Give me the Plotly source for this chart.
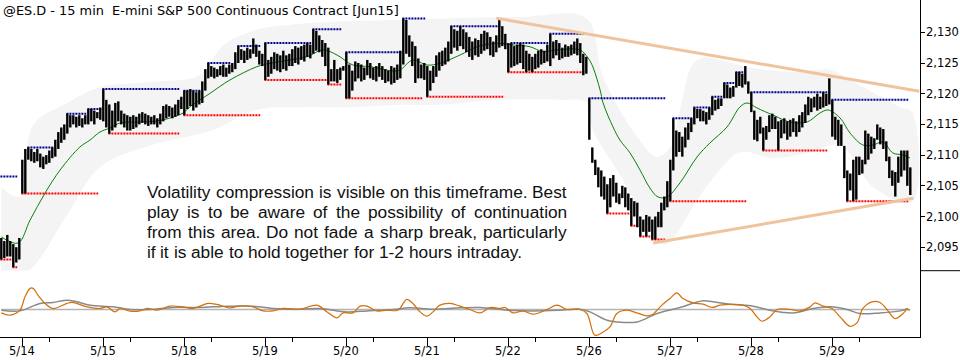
import plotly.graph_objects as go

# ---------------- data ----------------
title_text = "@ES.D - 15 min  E-mini S&P 500 Continuous Contract [Jun15]"
day_labels = ["5/14", "5/15", "5/18", "5/19", "5/20", "5/21", "5/22", "5/26", "5/27", "5/28", "5/29"]
day_start = [7, 34, 61, 88, 115, 142, 169, 196, 223, 250, 277]
minor_tick = [16, 43, 70, 97, 124, 151, 178, 205, 232, 259, 286]
price_ticks = [2095, 2100, 2105, 2110, 2115, 2120, 2125, 2130]

highs = [
    # 5/13 (tail)
    2096.5, 2096.0, 2097.0, 2096.0, 2095.5, 2095.0, 2096.5,
    # 5/14
    2109.25, 2111.0, 2111.25, 2111.0, 2110.5, 2111.0, 2110.25, 2109.75, 2110.0, 2110.75,
    2111.25, 2112.5, 2113.75, 2114.5, 2115.0, 2116.75, 2116.5, 2116.5, 2116.25, 2116.5,
    2116.0, 2116.5, 2117.5, 2117.5, 2117.25, 2117.0, 2117.75,
    # 5/15
    2120.75, 2119.0, 2118.25, 2117.25, 2118.5, 2118.75, 2117.25, 2116.75, 2116.5, 2116.25,
    2116.5, 2116.25, 2116.75, 2117.0, 2116.75, 2116.5, 2116.25, 2116.5, 2116.0, 2116.75,
    2118.0, 2118.25, 2118.0, 2117.75, 2118.25, 2119.0, 2119.5,
    # 5/18
    2120.5, 2120.5, 2120.75, 2120.5, 2120.25, 2120.5, 2122.0, 2124.0, 2125.0, 2124.5,
    2124.25, 2124.0, 2124.5, 2124.75, 2124.25, 2124.75, 2125.0, 2126.75, 2127.75, 2127.25,
    2127.0, 2127.5, 2127.25, 2129.0, 2128.0, 2127.0, 2126.5,
    # 5/19
    2128.25, 2125.5, 2126.0, 2126.75, 2126.5, 2126.25, 2127.0, 2126.25, 2126.5, 2127.25,
    2127.75, 2127.5, 2127.75, 2128.0, 2128.25, 2128.0, 2130.5, 2130.25, 2129.5, 2128.75,
    2128.25, 2127.5, 2124.0, 2125.5, 2124.0, 2124.25, 2124.5,
    # 5/20
    2126.75, 2124.75, 2123.75, 2125.25, 2125.0, 2124.75, 2124.25, 2125.5, 2125.0, 2124.25,
    2124.5, 2125.0, 2124.5, 2124.0, 2123.75, 2124.5, 2124.25, 2124.75, 2127.0, 2132.25,
    2132.0, 2129.5, 2128.5, 2127.75, 2125.75, 2124.75, 2125.0,
    # 5/21
    2124.5, 2123.75, 2124.5, 2126.25, 2126.75, 2127.0, 2127.5, 2128.5, 2131.0, 2130.5,
    2130.25, 2131.0, 2130.5, 2130.0, 2129.25, 2128.5, 2129.0, 2128.75, 2129.75, 2130.25,
    2130.0, 2129.25, 2128.5, 2129.5, 2132.25, 2131.0, 2129.75,
    # 5/22
    2128.25, 2128.25, 2127.75, 2128.0, 2128.25, 2128.0, 2127.0, 2126.5, 2126.0, 2126.5,
    2127.0, 2127.25, 2127.0, 2128.0, 2129.75, 2128.5, 2128.75, 2128.25, 2127.5, 2128.0,
    2127.75, 2128.0, 2128.5, 2129.0, 2128.25, 2126.5, 2126.0,
    # 5/26
    2119.25, 2111.25, 2109.25, 2108.0, 2107.5, 2106.5, 2105.25, 2106.25, 2106.75, 2105.5,
    2103.75, 2105.0, 2104.75, 2103.75, 2103.0, 2102.5, 2102.25, 2100.0, 2099.5, 2100.25,
    2100.0, 2099.5, 2100.0, 2100.75, 2102.25, 2103.25, 2105.75,
    # 5/27
    2109.25, 2116.0, 2114.0, 2113.75, 2113.0, 2114.5, 2115.25, 2116.0, 2117.75, 2117.5,
    2117.5, 2117.25, 2117.0, 2117.75, 2119.5, 2119.0, 2119.25, 2119.25, 2121.75, 2121.5,
    2121.0, 2121.25, 2123.5, 2123.5, 2123.25, 2124.5, 2122.0,
    # 5/28
    2120.25, 2117.25, 2115.75, 2116.25, 2114.5, 2114.75, 2116.5, 2116.75, 2116.25, 2115.5,
    2115.75, 2116.0, 2115.5, 2115.75, 2116.0, 2115.5, 2116.5, 2117.0, 2118.25, 2119.5,
    2119.25, 2119.5, 2120.0, 2119.5, 2120.25, 2120.0, 2122.5,
    # 5/29
    2119.0, 2116.25, 2115.75, 2115.0, 2111.5, 2107.5, 2107.0, 2109.25, 2109.75, 2109.75,
    2109.25, 2114.0, 2113.5, 2113.0, 2112.75, 2115.0, 2114.5, 2114.25, 2112.25, 2109.75,
    2107.5, 2107.25, 2109.75, 2110.75, 2110.75, 2110.75, 2108.0,
]

lows = [
    # 5/13 (tail)
    2093.0, 2093.25, 2093.5, 2093.5, 2091.75, 2092.5, 2093.0,
    # 5/14
    2103.75, 2103.75, 2109.25, 2109.0, 2108.75, 2109.0, 2108.0, 2107.75, 2108.5, 2108.75,
    2109.5, 2109.75, 2111.0, 2112.0, 2112.5, 2113.5, 2114.5, 2115.0, 2114.5, 2114.75,
    2114.5, 2115.0, 2115.0, 2115.5, 2115.0, 2116.0, 2115.75,
    # 5/15
    2115.5, 2114.5, 2113.5, 2114.0, 2114.5, 2115.5, 2115.0, 2114.5, 2114.0, 2114.0,
    2114.25, 2114.5, 2115.0, 2115.25, 2115.0, 2114.75, 2115.0, 2115.0, 2114.5, 2115.0,
    2115.5, 2116.0, 2116.25, 2116.0, 2116.25, 2116.5, 2117.5,
    # 5/18
    2116.5, 2117.5, 2118.0, 2117.25, 2117.75, 2118.25, 2118.5, 2120.5, 2122.5, 2122.75,
    2122.5, 2122.75, 2123.0, 2122.75, 2122.75, 2123.25, 2123.5, 2124.0, 2125.0, 2125.5,
    2125.0, 2125.5, 2125.75, 2126.5, 2126.0, 2124.75, 2124.5,
    # 5/19
    2122.25, 2122.75, 2123.25, 2124.0, 2123.75, 2123.5, 2124.0, 2123.75, 2124.5, 2124.5,
    2125.0, 2124.75, 2125.5, 2125.25, 2126.0, 2125.75, 2126.5, 2127.0, 2126.75, 2126.0,
    2124.5, 2121.5, 2122.0, 2122.0, 2121.75, 2122.25, 2123.75,
    # 5/20
    2119.25, 2119.25, 2120.5, 2122.0, 2122.5, 2122.0, 2122.25, 2123.0, 2122.5, 2122.25,
    2122.0, 2122.75, 2122.25, 2121.75, 2122.0, 2121.5, 2121.75, 2122.25, 2122.5, 2124.75,
    2126.5, 2126.0, 2124.5, 2121.75, 2122.5, 2122.5, 2122.25,
    # 5/21
    2119.5, 2120.5, 2121.75, 2122.75, 2123.75, 2124.5, 2124.75, 2125.25, 2126.5, 2127.5,
    2127.0, 2127.75, 2127.25, 2126.75, 2126.0, 2125.5, 2126.25, 2126.0, 2126.5, 2127.0,
    2127.25, 2126.25, 2126.0, 2126.75, 2127.5, 2127.75, 2127.25,
    # 5/22
    2123.5, 2124.25, 2124.5, 2124.75, 2125.0, 2124.0, 2123.5, 2123.75, 2123.5, 2124.0,
    2124.25, 2124.75, 2125.0, 2125.25, 2124.5, 2125.75, 2126.25, 2125.5, 2125.75, 2126.0,
    2126.0, 2126.25, 2126.5, 2126.25, 2125.0, 2123.0, 2123.25,
    # 5/26
    2112.5, 2108.75, 2106.75, 2104.75, 2103.25, 2102.75, 2100.5, 2101.5, 2103.25, 2102.25,
    2102.0, 2103.0, 2101.5, 2101.0, 2098.5, 2100.0, 2098.25, 2096.75, 2097.5, 2096.75,
    2097.5, 2096.25, 2096.25, 2098.25, 2098.25, 2101.0, 2101.5,
    # 5/27
    2102.5, 2107.5, 2109.75, 2110.5, 2109.75, 2111.25, 2112.5, 2113.75, 2115.0, 2116.0,
    2115.5, 2115.5, 2115.0, 2115.75, 2116.5, 2117.25, 2117.5, 2118.0, 2119.25, 2119.25,
    2119.25, 2119.5, 2121.0, 2121.25, 2121.0, 2121.5, 2120.0,
    # 5/28
    2117.0, 2112.5, 2112.25, 2113.5, 2110.75, 2112.5, 2113.75, 2114.25, 2114.25, 2110.75,
    2112.75, 2113.5, 2112.5, 2113.0, 2113.75, 2113.0, 2113.75, 2114.5, 2115.25, 2116.5,
    2117.0, 2117.75, 2117.25, 2117.5, 2117.75, 2118.0, 2118.25,
    # 5/29
    2113.0, 2112.5, 2111.5, 2111.5, 2106.25, 2102.5, 2104.25, 2102.5, 2102.75, 2106.75,
    2107.0, 2108.5, 2109.25, 2110.25, 2111.0, 2112.5, 2111.75, 2111.0, 2109.0, 2106.25,
    2105.0, 2103.25, 2105.5, 2106.5, 2107.5, 2105.0, 2103.5,
]

# moving average (read at sample bars)
ma_x = [0, 5.6, 9.6, 14.6, 19.6, 26.2, 29.6, 32.9, 36.2, 39.6, 46.2, 52.9, 60.6, 62.9, 69.6,
        76.2, 85.2, 89.6, 96.2, 101.9, 107.2, 111.9, 117.2, 122.9, 130.6, 132.9, 137.2, 141.9,
        146.2, 152.9, 158.6, 165.2, 170.6, 176.2, 180.6, 185.2, 192.9, 195.6, 197.2, 199.6,
        200.6, 203.9, 206.2, 209.6, 212.9, 216.2, 218.9, 221.9, 226.2, 231.9, 236.2, 241.9,
        246.2, 248.6, 251.9, 257.2, 262.9, 268.6, 272.9, 275.6, 279.6, 282.9, 287.2, 290.6,
        293.9, 297.2, 300.6, 302.9]
ma_y = [2096.66, 2095.68, 2099.43, 2103.83, 2107.57, 2111.32, 2112.46, 2113.76, 2114.41,
        2115.23, 2115.4, 2115.64, 2116.86, 2117.88, 2120.07, 2122.23, 2124.4, 2124.95, 2125.49,
        2126.03, 2127.12, 2126.3, 2124.67, 2124.4, 2123.7, 2123.86, 2125.49, 2124.67, 2124.95,
        2126.3, 2127.65, 2128.21, 2127.93, 2127.65, 2126.84, 2127.12, 2127.12, 2125.81, 2124.35,
        2120.6, 2118.49, 2114.58, 2112.46, 2110.34, 2107.57, 2104.64, 2103.18, 2103.18, 2105.46,
        2109.69, 2111.97, 2114.58, 2117.83, 2118.49, 2117.67, 2116.53, 2115.39, 2115.39, 2116.86,
        2117.35, 2116.04, 2113.6, 2111.65, 2111.65, 2112.13, 2110.34, 2110.02, 2109.53]

# volatility band edges (read at sample bars)
band_up_x = [0, 6, 10.6, 22, 33, 50, 66, 74, 85, 96, 110, 130, 150, 173, 195, 200.6, 212, 218.6,
             223, 226.2, 232, 248.6, 255, 266, 276, 286, 299.6, 303.6]
band_up = [2104.8, 2103.2, 2114.9, 2118.5, 2121.1, 2121.9, 2123.0, 2127.9, 2130.4, 2131.2,
           2131.7, 2132.0, 2132.3, 2132.5, 2132.3, 2122.7, 2112.95, 2109.7, 2111.3, 2117.35,
           2125.5, 2124.35, 2123.9, 2123.5, 2123.9, 2121.4, 2117.8, 2117.0]
band_lo_x = [0, 6, 10.6, 22, 33, 50, 70.6, 85, 99.6, 116, 133, 146, 166, 186, 195, 197.2, 206.2,
             218.6, 221.2, 223.6, 233, 239.6, 246.2, 257.2, 268.6, 279.6, 290.6, 303.6]
band_lo = [2090.5, 2090.5, 2091.8, 2100.3, 2108.1, 2111.6, 2114.1, 2117.35, 2117.8, 2117.8,
           2118.2, 2118.2, 2119.0, 2119.0, 2118.6, 2114.1, 2106.8, 2096.2, 2095.35, 2096.2,
           2103.5, 2107.6, 2110.5, 2109.5, 2110.3, 2111.6, 2104.8, 2102.4]

# resistance (blue) and support (red) levels: level, first bar, last bar
res_level = [2106.5, 2111.25, 2116.75, 2117.5, 2120.75, 2120.5, 2125.0, 2127.75, 2128.25, 2130.5,
             2126.75, 2132.25, 2131.0, 2128.25, 2129.75, 2119.25, 2116.0, 2117.75, 2119.5,
             2121.75, 2123.5, 2120.25, 2119.0]
res_start = [0, 9, 22, 29, 34, 61, 69, 79, 88, 104, 115, 134, 150, 170, 183, 196, 224, 231, 237,
             241, 245, 250, 277]
res_end = [5, 17, 28, 33, 59, 66, 76, 86, 103, 113, 133, 141, 166, 182, 194, 221, 230, 236, 240,
           244, 247, 275, 302]

sup_level = [2093.0, 2091.75, 2103.75, 2113.5, 2116.5, 2122.25, 2121.5, 2119.25, 2119.5, 2123.5,
             2100.5, 2098.5, 2096.75, 2096.25, 2102.5, 2110.75, 2102.5]
sup_start = [0, 4, 7, 36, 61, 88, 109, 115, 142, 169, 202, 210, 213, 217, 223, 254, 282]
sup_end = [3, 5, 32, 59, 86, 109, 113, 140, 167, 194, 209, 212, 216, 221, 248, 275, 302]

# trend lines
trend_up_x = [165, 306]
trend_up_y = [2132.3, 2120.4]
trend_lo_x = [217.3, 304]
trend_lo_y = [2095.7, 2102.96]

# oscillator panel
osc_x = [0, 2.9, 6.2, 7.9, 9.6, 10.6, 12.2, 14.6, 17.2, 21.9, 23.6, 28.6, 32.9, 35.2, 37.9, 39.6,
         42.9, 46.2, 48.6, 51.9, 56.2, 60.6, 63.9, 68.9, 71.9, 76.2, 79.6, 83.9, 87.2, 90.6, 93.9,
         99.6, 105.2, 108.6, 111.9, 113.9, 117.2, 119.6, 121.9, 125.2, 128.6, 132.2, 135.2, 137.2,
         139.6, 141.9, 143.9, 146.2, 149.6, 152.9, 156.2, 159.6, 162.9, 166.2, 167.9, 170.6, 173.9,
         177.2, 181.9, 185.2, 188.6, 192.9, 195.2, 197.9, 200.6, 202.9, 205.2, 208.6, 211.9, 215.2,
         217.2, 220.2, 222.9, 225.2, 227.2, 230.6, 233.9, 236.9, 239.6, 243.9, 247.2, 249.6, 251.9,
         253.6, 256.2, 258.6, 262.9, 266.2, 269.6, 271.2, 273.9, 276.9, 279.6, 282.9, 285.2, 287.2,
         290.2, 292.9, 295.2, 297.9, 300.6, 301.9, 302.9]
osc_v = [-3.4, -5.7, -0.7, 12.6, 21.0, 21.0, 14.3, 6.0, 1.0, 6.0, 7.0, 2.6, 1.0, 2.6, -2.4, 1.0,
         -1.7, -1.4, 1.0, -0.7, 3.3, 2.6, 1.0, 6.0, 5.0, 1.6, 3.6, 2.6, -1.4, -1.4, 1.0,
         0.3, 4.3, -2.4, -8.4, -3.4, -3.4, 3.3, 3.3, -1.4, -0.7, -0.7, 10.0, 6.0,
         -2.4, -6.7, -2.4, 4.3, 6.0, 3.3, 0.0, -3.4, 2.0, 1.0, 2.0, -3.4, -1.4,
         -4.7, 0.0, 4.3, 0.0, 0.0, -4.0, -25.7, -22.4, -17.4, -4.0, -0.7, -3.4, -6.4,
         -4.7, 4.3, 11.0, 16.6, 11.0, 6.6, 5.3, 2.0, 4.3, 5.0, 4.3, 1.0, -7.4,
         -11.7, -7.4, 0.0, 0.0, -1.4, 2.6, 6.6, 3.3, 1.0, -7.4, -16.7, -13.4, 1.0,
         7.6, 7.0, 0.0, -9.0, -4.0, 0.0, -0.7]
sig_x = [0, 6.2, 12.9, 17.2, 21.9, 25.2, 29.6, 37.2, 42.9, 49.6, 57.2, 66.2, 75.2, 83.9, 90.6,
         99.6, 106.2, 115.2, 121.9, 130.6, 136.2, 143.9, 152.9, 159.6, 168.6, 177.2, 186.2, 192.9,
         196.2, 201.9, 205.2, 211.9, 218.6, 226.2, 233.9, 237.2, 243.9, 250.6, 256.2, 263.9, 270.6,
         276.2, 281.9, 286.2, 292.9, 299.6, 302.2]
sig_v = [-0.7, -1.4, 6.0, 7.0, 9.3, 7.6, 4.3, 2.6, 0.0, 0.0, 2.0, 2.0, 3.3, 3.3, 1.0,
         0.3, 1.0, -2.4, -1.4, 0.0, 1.6, 0.3, 1.6, 2.0, -0.7, -1.4, -0.7, 0.3,
         -2.4, -10.7, -12.4, -12.4, -4.0, 2.0, 8.6, 7.6, 5.0, 3.3, -0.7, -3.4, 1.0,
         2.6, 0.0, -4.0, -3.4, -1.4, 1.0]
zero_x = [0, 303]
zero_v = [0, 0]

note_lines = [
    "Volatility compression is visible on this timeframe. Best",
    "play is to be aware of the possibility of continuation",
    "from this area. Do not fade a sharp break, particularly",
    "if it is able to hold together for 1-2 hours intraday.",
]

# ---------------- layout constants ----------------
W, H = 960, 360
ML, MR, MT, MB = 0, 40, 0, 23
PW, PH = W - ML - MR, H - MT - MB
MAIN_BOTTOM_PX = 270.7
LOW_TOP_PX = 271.0
BAND_COLOR = "#f4f4f4"

fig = go.Figure()

# band: lower edge then upper edge (reversed) as one closed polygon
poly_x = list(band_lo_x) + list(reversed(band_up_x))
poly_y = list(band_lo) + list(reversed(band_up))
fig.add_trace(go.Scatter(x=poly_x, y=poly_y, mode="lines", line=dict(width=0, color=BAND_COLOR),
                         line_shape="spline", fill="toself", fillcolor=BAND_COLOR,
                         hoverinfo="skip", showlegend=False))

# moving average
fig.add_trace(go.Scatter(x=ma_x, y=ma_y, mode="lines", line=dict(color="#0b800b", width=1),
                         line_shape="spline", hoverinfo="skip", showlegend=False))

# support / resistance dotted levels
def seg_xy(levels, starts, ends):
    xs, ys = [], []
    for lv, s, e in zip(levels, starts, ends):
        xs += [s - 0.3, e + 0.3, None]
        ys += [lv, lv, None]
    return xs, ys

rx, ry = seg_xy(res_level, res_start, res_end)
sx, sy = seg_xy(sup_level, sup_start, sup_end)
fig.add_trace(go.Scatter(x=rx, y=ry, mode="lines", line=dict(color="#00008e", width=2, dash="2px,1px"),
                         hoverinfo="skip", showlegend=False))
fig.add_trace(go.Scatter(x=sx, y=sy, mode="lines", line=dict(color="#ff0000", width=2, dash="2px,1px"),
                         hoverinfo="skip", showlegend=False))

# price bars (high-low)
bx, by = [], []
for i, (h, l) in enumerate(zip(highs, lows)):
    bx += [i, i, None]
    by += [l, h, None]
fig.add_trace(go.Scatter(x=bx, y=by, mode="lines", line=dict(color="#000000", width=2.4),
                         hoverinfo="skip", showlegend=False))

# trend lines
fig.add_trace(go.Scatter(x=trend_up_x, y=trend_up_y, mode="lines",
                         line=dict(color="#efc39e", width=3), hoverinfo="skip", showlegend=False))
fig.add_trace(go.Scatter(x=trend_lo_x, y=trend_lo_y, mode="lines",
                         line=dict(color="#efc39e", width=3), hoverinfo="skip", showlegend=False))

# oscillator panel
fig.add_trace(go.Scatter(x=zero_x, y=zero_v, yaxis="y2", mode="lines",
                         line=dict(color="#b4b4b4", width=1.5), hoverinfo="skip", showlegend=False))
fig.add_trace(go.Scatter(x=sig_x, y=sig_v, yaxis="y2", mode="lines", line_shape="spline",
                         line=dict(color="#8a8a8a", width=1.5), hoverinfo="skip", showlegend=False))
fig.add_trace(go.Scatter(x=osc_x, y=osc_v, yaxis="y2", mode="lines", line_shape="spline",
                         line=dict(color="#d2700a", width=1.2), hoverinfo="skip", showlegend=False))

# ---------------- text ----------------
AXIS_FONT = dict(family="DejaVu Sans", size=11.5, color="#000000")
annotations = []
annotations.append(dict(text=title_text, x=1 / PW, y=1 - 10 / PH, xref="paper", yref="paper",
                        xanchor="left", yanchor="middle", showarrow=False,
                        font=dict(family="DejaVu Sans", size=12.9, color="#000000")))

# price labels on the right
for p in price_ticks:
    annotations.append(dict(text=f"{p:,}", x=(924 - ML) / PW, y=p, xref="paper", yref="y",
                            xanchor="left", yanchor="middle", showarrow=False, font=AXIS_FONT))
# date labels
for d, lab in zip(day_start, day_labels):
    annotations.append(dict(text=lab, x=d, y=1 - 351 / PH, xref="x", yref="paper",
                            xanchor="center", yanchor="middle", showarrow=False, font=AXIS_FONT))

ARIAL = {" ": 278, "a": 556, "b": 556, "c": 500, "d": 556, "e": 556, "f": 278, "g": 556, "h": 556,
         "i": 222, "j": 222, "k": 500, "l": 222, "m": 833, "n": 556, "o": 556, "p": 556, "q": 556,
         "r": 333, "s": 500, "t": 278, "u": 556, "v": 500, "w": 722, "x": 500, "y": 500, "z": 500,
         "V": 667, "B": 667, "D": 722, ".": 278, ",": 278, "-": 333, "1": 556, "2": 556}
FS = 17.3
TX0, TX1 = 146, 566
line_y = [191.7, 211.7, 231.7, 251.7]

def tw(s):
    return sum(ARIAL.get(c, 556) for c in s) * FS / 1000.0

for k, line in enumerate(note_lines):
    words = line.split(" ")
    if k < len(note_lines) - 1:
        gap = (TX1 - TX0 - sum(tw(w) for w in words)) / (len(words) - 1)
    else:
        gap = tw(" ")
    xpos = TX0
    for w in words:
        annotations.append(dict(text=w, x=(xpos - 1) / PW, y=1 - line_y[k] / PH, xref="paper",
                                yref="paper", xanchor="left", yanchor="middle", showarrow=False,
                                font=dict(family="Liberation Sans", size=FS, color="#111111")))
        xpos += tw(w) + gap

shapes = [
    dict(type="line", xref="paper", yref="paper", x0=1, x1=1 + MR / PW,
         y0=1 - MAIN_BOTTOM_PX / PH, y1=1 - MAIN_BOTTOM_PX / PH, line=dict(color="black", width=1)),
]

x_lo = -1.3 / 3.0
x_hi = x_lo + PW / 3.0
main_top = 2130 + 32.3 / 6.14
main_bot = main_top - MAIN_BOTTOM_PX / 6.14

fig.update_layout(
    width=W, height=H, margin=dict(l=ML, r=MR, t=MT, b=MB, autoexpand=False),
    paper_bgcolor="white", plot_bgcolor="white", showlegend=False,
    annotations=annotations, shapes=shapes,
    xaxis=dict(range=[x_lo, x_hi], anchor="y2", showgrid=False, zeroline=False,
               showline=True, linecolor="black", linewidth=1, automargin=False,
               tickmode="array", tickvals=day_start, ticktext=[""] * len(day_start),
               ticks="outside", ticklen=8, tickcolor="black", tickwidth=1,
               minor=dict(tickmode="array", tickvals=minor_tick, ticks="outside", ticklen=4,
                          tickcolor="black", tickwidth=1)),
    yaxis=dict(range=[main_bot, main_top], domain=[1 - MAIN_BOTTOM_PX / PH, 1], anchor="x",
               side="right", showgrid=False, zeroline=False, showline=True, linecolor="black",
               linewidth=1, tickmode="array", tickvals=price_ticks, showticklabels=False,
               ticks="outside", ticklen=4, tickcolor="black", automargin=False),
    yaxis2=dict(range=[-27.4, 38.3], domain=[0, 1 - LOW_TOP_PX / PH], anchor="x", side="right",
                showgrid=False, zeroline=False, showline=True, linecolor="black", linewidth=1,
                showticklabels=False, ticks="", automargin=False),
)

fig.write_html("out.html", config={"displayModeBar": False},
               post_script="document.body.style.margin='0';document.body.style.overflow='hidden';")
